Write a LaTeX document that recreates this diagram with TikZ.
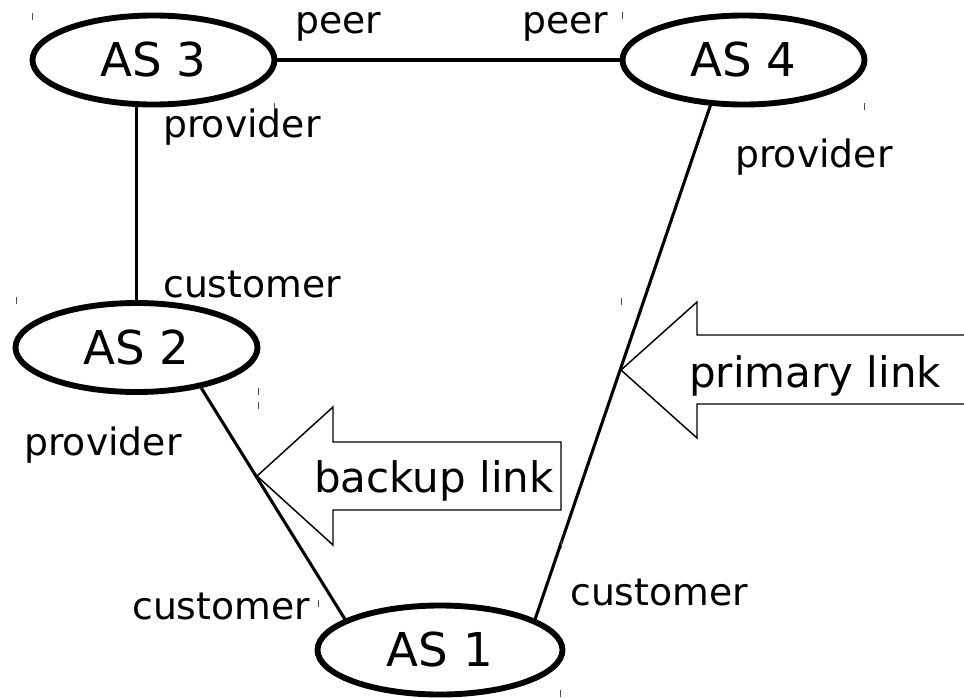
\documentclass[tikz,border=0pt]{standalone}
\usepackage{fontspec}
\setmainfont{DejaVu Sans}
\usetikzlibrary{shapes.geometric}

\tikzset{
  asnode/.style={ellipse, draw, line width=4.4pt, fill=white, inner sep=0pt,
    minimum width=181.5pt, minimum height=66.75pt, font=\fontsize{35}{40}\selectfont},
  link/.style={line width=2.3pt},
  role/.style={anchor=base west, inner sep=0pt, font=\fontsize{28.3}{31}\selectfont},
  callout/.style={draw, line width=1.1pt, fill=white, line join=miter},
  calloutlabel/.style={anchor=base west, inner sep=0pt, font=\fontsize{31.5}{34}\selectfont},
  corner/.style={line width=0.6pt, black!70}
}

\begin{document}
\begin{tikzpicture}[x=0.75pt, y=-0.75pt]
  \useasboundingbox (0,0) rectangle (964,697);

  % autonomous systems
  \node[asnode] (as3) at (153.5,60) {AS 3};
  \node[asnode] (as4) at (743.5,60) {AS 4};
  \node[asnode] (as2) at (136.5,347.5) {AS 2};
  \node[asnode, minimum width=183.75pt] (as1) at (440,650) {AS 1};

  % links between them
  \draw[link] (as3.east) -- (as4.west);
  \draw[link] (as2.north) -- (as2.north |- as3.south);
  \draw[link] (as2.-32) -- (as1.162);
  \draw[link] (as4.-126) -- (as1.18);

  % relationship labels
  \node[role] (peerL) at (295,33) {peer};
  \node[role] (peerR) at (522,33) {peer};
  \node[role] (prov3) at (163,137) {provider};
  \node[role] (prov4) at (735,167) {provider};
  \node[role] (cust2) at (163,297) {customer};
  \node[role] (prov2) at (24,455) {provider};
  \node[role] (cust1L) at (132,619) {customer};
  \node[role] (cust1R) at (570,605) {customer};

  % block arrows pointing at the two uplinks
  \draw[callout] (257,476) -- (333,407) -- (333,442) -- (561,442) -- (561,510)
    -- (333,510) -- (333,545) -- cycle;
  \node[calloutlabel] (backup) at (314,492) {backup link};

  \draw[callout] (621,370) -- (697,302) -- (697,335) -- (970,335) -- (970,404)
    -- (697,404) -- (697,438) -- cycle;
  \node[calloutlabel] (primary) at (689,387) {primary link};

  % small corner marks
  \foreach \cx/\cy in {32/13, 274/103, 622/12, 864/103, 16/297, 258/388,
                       318/600, 560/690, 258/402, 561/541, 621/298}
    \draw[corner] (\cx,\cy) -- ++(0,7);
\end{tikzpicture}
\end{document}
